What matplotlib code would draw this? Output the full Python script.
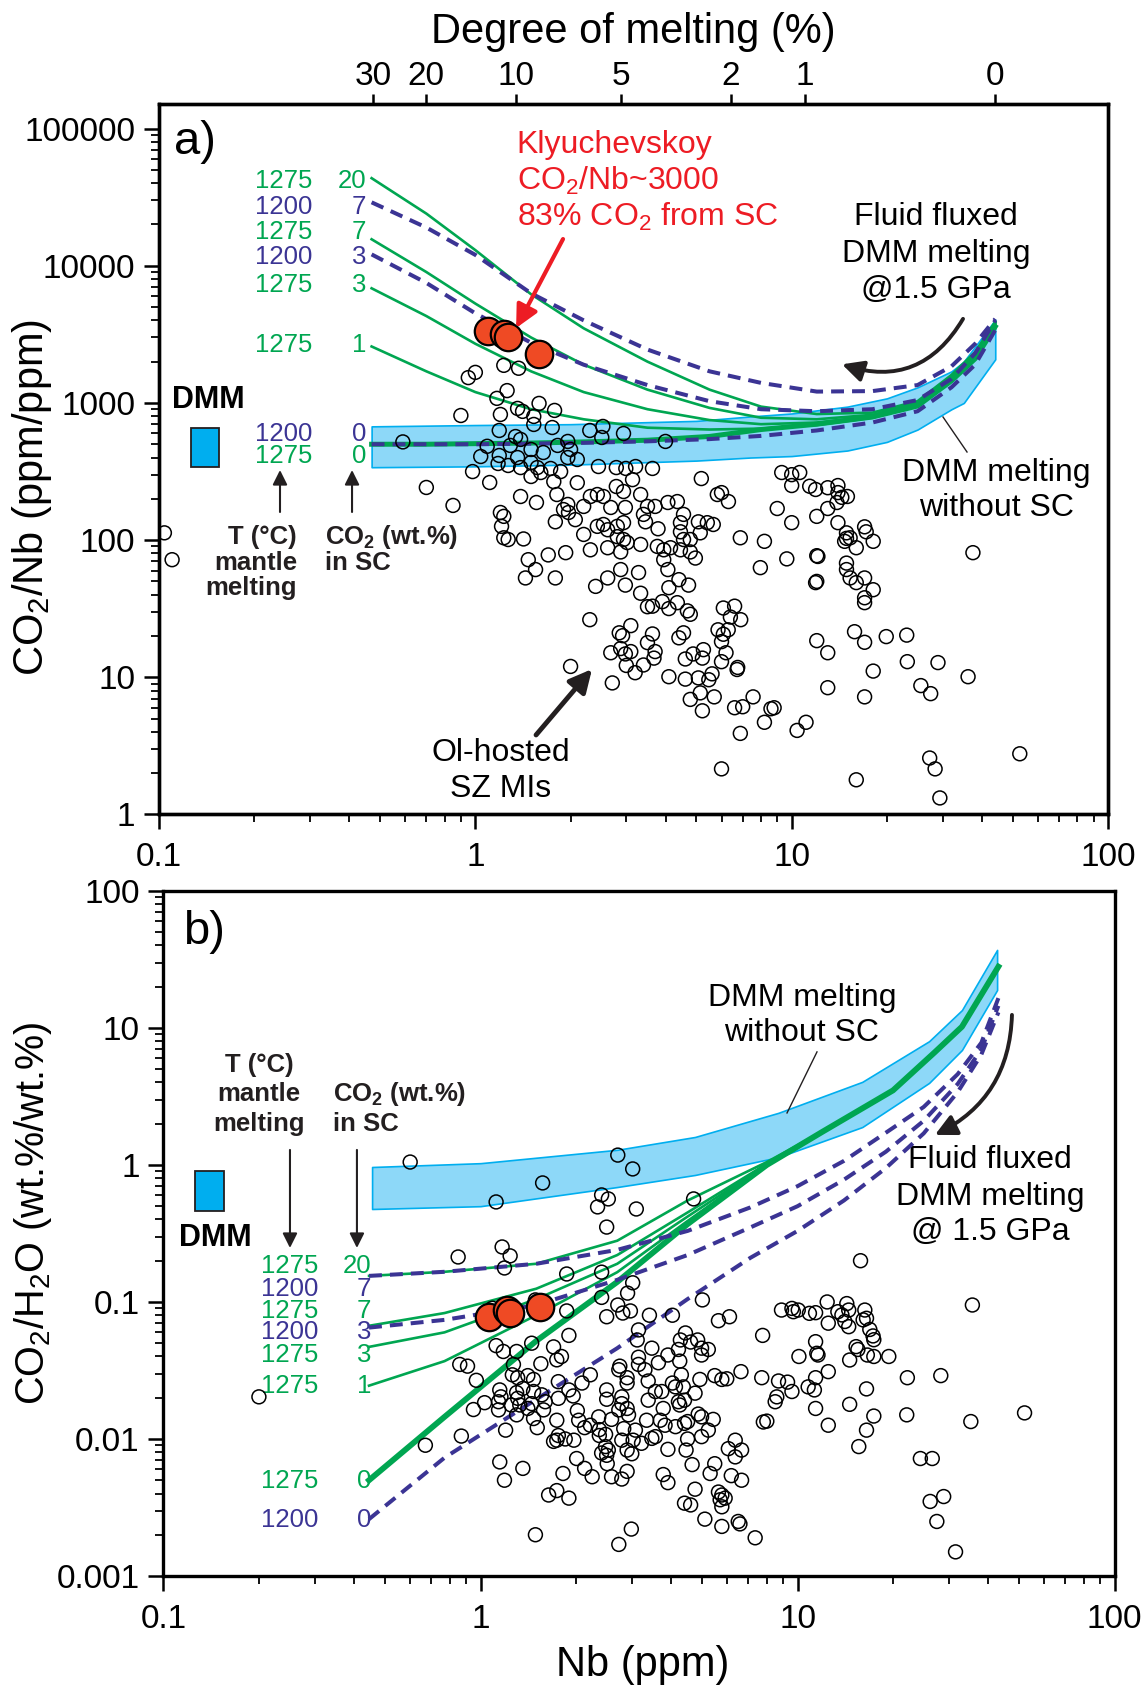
import matplotlib
matplotlib.use('Agg')
import matplotlib.pyplot as plt
from matplotlib.patches import Rectangle, FancyArrowPatch
from matplotlib.ticker import NullFormatter, NullLocator

plt.rcParams['font.family'] = ['Liberation Sans', 'DejaVu Sans']
plt.rcParams['mathtext.fontset'] = 'custom'
plt.rcParams['mathtext.rm'] = 'Liberation Sans'
plt.rcParams['mathtext.it'] = 'Liberation Sans:italic'
plt.rcParams['mathtext.bf'] = 'Liberation Sans:bold'

GREEN = '#00A651'
NAVY = '#3B3494'
BAND = '#8DD8F8'
BAND_EDGE = '#00AEEF'
RED = '#ED1C24'
KLY = '#EF4A24'

# ---------------- panel a data: CO2/Nb vs Nb ----------------
mi_a = [
    (0.59, 520), (0.70, 242), (0.104, 113), (0.110, 72),
    (1.23, 1880), (1.37, 1790), (1.26, 1230), (1.17, 1080), (0.95, 1530), (1.00, 1670), (0.90, 810), (1.20, 824),
    (1.36, 912), (1.41, 868), (1.59, 992), (1.78, 882), (1.53, 797), (1.53, 697), (1.75, 662), (1.19, 630),
    (2.30, 630), (2.53, 674), (2.94, 599), (2.51, 560), (3.99, 524), (1.34, 569), (1.39, 542), (1.29, 490),
    (1.09, 483), (1.04, 407), (1.19, 414), (1.36, 400), (1.50, 458), (1.64, 435), (1.82, 490), (1.96, 524),
    (2.00, 458), (1.96, 400), (1.50, 368), (1.18, 362), (1.27, 350), (1.39, 338), (1.57, 338), (1.73, 333),
    (1.86, 316), (2.10, 387), (0.98, 316), (1.11, 263), (1.50, 291), (1.61, 311), (1.77, 267), (2.10, 262),
    (1.81, 215), (1.39, 208), (1.56, 188), (0.85, 179), (2.45, 344), (2.79, 338), (2.99, 333), (3.21, 344),
    (3.63, 333), (3.14, 276), (2.79, 246), (2.94, 226), (3.33, 215), (5.18, 281), (5.82, 215), (6.31, 191),
    (6.00, 222), (2.31, 208), (2.43, 215), (2.54, 208), (2.20, 176), (1.96, 182), (1.90, 167), (1.97, 159),
    (2.07, 141), (1.79, 136), (2.68, 173), (2.98, 173), (1.20, 159), (1.23, 149), (1.21, 126), (1.23, 104),
    (1.27, 101), (1.42, 102), (1.47, 72), (1.70, 78), (1.93, 81), (2.31, 85), (2.62, 88), (1.55, 61),
    (1.44, 53), (1.79, 53), (2.43, 126), (2.54, 130), (2.62, 119), (2.81, 126), (2.94, 134), (2.81, 106),
    (2.94, 101), (3.02, 96), (2.20, 110), (3.50, 176), (3.70, 176), (4.06, 188), (4.35, 191), (4.55, 154),
    (3.40, 154), (3.45, 136), (3.78, 121), (4.45, 134), (4.45, 115), (4.55, 101), (4.78, 101), (5.14, 113),
    (5.07, 136), (5.41, 134), (5.65, 130), (6.88, 104), (8.20, 98), (7.96, 63), (3.76, 90), (3.94, 85),
    (4.14, 88), (4.45, 85), (4.78, 82), (4.96, 74), (3.94, 72), (4.06, 61), (3.33, 93), (2.88, 82),
    (2.88, 61), (3.28, 58), (2.98, 47), (2.62, 53), (2.40, 46), (3.33, 41), (4.40, 51.5), (4.72, 47),
    (4.09, 45), (3.50, 32.7), (3.63, 33), (3.90, 35.6), (4.09, 31.7), (4.35, 35), (4.68, 30.5), (4.78, 28.8),
    (2.30, 26.3), (3.10, 23.8), (2.85, 21.1), (2.92, 20.1), (3.63, 20.7), (3.50, 17.9), (2.68, 15.1), (2.88, 16.2),
    (3.10, 15.4), (2.98, 14.8), (3.70, 15.4), (3.67, 13.8), (3.00, 12.2), (3.20, 10.8), (3.40, 12.3), (2.71, 9.1),
    (2.00, 12.0), (4.40, 19.4), (4.55, 21.1), (4.09, 10.1), (4.61, 13.6), (4.88, 14.8), (5.26, 15.9), (5.22, 13.8),
    (4.61, 9.7), (5.07, 9.9), (5.47, 9.6), (5.60, 10.6), (4.78, 6.9), (5.14, 7.7), (5.22, 5.7), (5.69, 7.2),
    (6.08, 32), (6.60, 33), (6.40, 27.5), (6.90, 26.3), (5.85, 22.2), (6.08, 20.6), (6.30, 22.2), (6.00, 18.2),
    (6.20, 15.1), (6.00, 13), (6.72, 11.4), (6.75, 11.8), (7.55, 7.2), (6.60, 6.0), (7.00, 6.1), (8.20, 4.7),
    (6.88, 3.9), (6.00, 2.15), (9.3, 311), (10.0, 300), (10.6, 311), (10.0, 250), (11.4, 247), (11.9, 234),
    (13.0, 241), (14.0, 250), (14.0, 222), (14.4, 205), (15.0, 208), (13.9, 188), (9.0, 170), (13.0, 170),
    (12.0, 149), (10.0, 134), (14.0, 134), (17.0, 125), (17.2, 115), (14.9, 113), (14.9, 103), (14.7, 98),
    (15.3, 104), (18.1, 98), (16.0, 88), (9.65, 73), (12.0, 77), (12.1, 76), (14.9, 68), (14.9, 61),
    (15.3, 53), (16.0, 49), (17.0, 53), (18.1, 43.5), (11.9, 49), (12.0, 50), (17.0, 38), (37.4, 81),
    (17.0, 35), (15.8, 21.5), (17.0, 18.0), (19.9, 19.8), (23.1, 20.3), (12.0, 18.5), (13.0, 15.1), (23.2, 13),
    (29.0, 12.8), (18.1, 11.1), (36.1, 10.1), (13.0, 8.4), (17.0, 7.2), (25.6, 8.7), (27.5, 7.6), (8.8, 6.0),
    (8.6, 5.9), (11.1, 4.7), (10.4, 4.1), (27.3, 2.58), (28.4, 2.15), (52.6, 2.77), (16.0, 1.79), (29.4, 1.32),
]
kly_nb_a = [1.10, 1.23, 1.27, 1.59]
kly_ratio_a = [3330, 3160, 3000, 2260]

curve_nb_a = [0.47, 0.7, 1.0, 1.5, 2.2, 3.5, 5.5, 8, 12, 18, 25, 32, 38, 44]
g20_a = [43500, 24000, 13000, 6200, 3500, 2000, 1250, 940, 830, 850, 1030, 1600, 2350, 3900]
d7_a = [29000, 19000, 12000, 6300, 4000, 2450, 1700, 1400, 1210, 1220, 1350, 1850, 2700, 4100]
g7_a = [15600, 9000, 5300, 3000, 1900, 1250, 920, 780, 760, 820, 1000, 1580, 2300, 3850]
d3_a = [12100, 7500, 4500, 2750, 1900, 1350, 1030, 900, 870, 900, 1050, 1500, 2300, 4000]
g3_a = [6850, 4300, 2700, 1700, 1200, 900, 750, 700, 720, 800, 980, 1550, 2250, 3800]
g1_a = [2580, 1700, 1200, 900, 760, 660, 640, 650, 690, 780, 950, 1500, 2200, 3700]
g0_a = [500, 500, 505, 510, 520, 535, 570, 640, 700, 790, 950, 1450, 2100, 3600]
d0_a = [500, 500, 500, 505, 512, 525, 545, 575, 630, 720, 870, 1300, 1900, 3400]

band_nb_a = [0.47, 1, 2, 5, 7.4, 10, 15, 20, 25, 32, 35, 44]
band_lo_a = [340, 345, 355, 380, 400, 410, 450, 520, 640, 900, 1000, 2080]
band_hi_a = [675, 690, 700, 740, 797, 838, 940, 1080, 1300, 1700, 2000, 4050]

melt_pct = ['30', '20', '10', '5', '2', '1', '0']
melt_nb = [0.475, 0.70, 1.34, 2.88, 6.42, 11.0, 43.9]

dmm_nb = (0.126, 0.155)
dmm_ratio_a = (344, 662)
dmm_ratio_b = (0.458, 0.904)

rows_a = [('1275', '20', GREEN), ('1200', '7', NAVY), ('1275', '7', GREEN), ('1200', '3', NAVY),
          ('1275', '3', GREEN), ('1275', '1', GREEN), ('1200', '0', NAVY), ('1275', '0', GREEN)]
rows_b = [('1275', '20', GREEN), ('1200', '7', NAVY), ('1275', '7', GREEN), ('1200', '3', NAVY),
          ('1275', '3', GREEN), ('1275', '1', GREEN), ('1275', '0', GREEN), ('1200', '0', NAVY)]

# ---------------- panel b data: CO2/H2O vs Nb ----------------
mi_b = [
    (0.60, 1.05), (0.85, 0.213), (0.20, 0.0203), (0.67, 0.0090),
    (2.71, 1.18), (3.02, 0.935), (1.57, 0.739), (1.12, 0.537), (2.41, 0.604), (2.53, 0.565), (2.34, 0.494), (3.10, 0.477),
    (4.70, 0.565), (2.50, 0.352), (1.17, 0.252), (1.24, 0.217), (1.19, 0.177), (1.87, 0.160), (2.41, 0.165), (3.02, 0.138),
    (2.91, 0.116), (2.41, 0.108), (2.71, 0.095), (2.81, 0.083), (2.97, 0.086), (3.41, 0.080), (4.03, 0.080), (2.50, 0.078),
    (1.87, 0.086), (1.49, 0.1035), (1.09, 0.090), (5.01, 0.1035), (5.63, 0.073), (6.10, 0.078), (7.76, 0.057), (1.90, 0.057),
    (3.15, 0.0625), (3.12, 0.0528), (4.27, 0.0528), (4.43, 0.0594), (4.84, 0.0528),
    (1.12, 0.048), (1.18, 0.0435), (1.30, 0.0435), (1.45, 0.050), (1.70, 0.047), (1.74, 0.0378), (1.80, 0.040), (1.55, 0.0354),
    (0.86, 0.035), (0.91, 0.034), (0.97, 0.0268), (1.27, 0.035), (1.26, 0.0294), (1.31, 0.028), (1.41, 0.029), (1.47, 0.0272),
    (1.36, 0.0234), (1.47, 0.0222), (1.30, 0.0218), (1.15, 0.0228), (1.16, 0.0203), (1.14, 0.0187), (1.03, 0.0184), (0.95, 0.0164),
    (1.14, 0.0163), (1.25, 0.0177), (1.31, 0.0198), (1.33, 0.0177), (1.45, 0.0181), (1.41, 0.0167), (1.56, 0.021), (1.60, 0.0187),
    (1.58, 0.0163), (1.30, 0.0150), (1.47, 0.0141), (1.51, 0.0121), (1.20, 0.0116), (0.87, 0.0105), (1.76, 0.0262), (1.90, 0.0228),
    (1.96, 0.0206), (2.09, 0.0256), (2.22, 0.0294), (1.76, 0.0198), (1.74, 0.0137), (2.02, 0.0161), (2.04, 0.0137), (2.13, 0.0121),
    (2.22, 0.0126), (2.36, 0.0145), (2.37, 0.0117), (2.48, 0.0108), (2.59, 0.0139), (2.73, 0.032), (2.75, 0.034), (2.90, 0.028),
    (2.90, 0.0256), (3.15, 0.0395), (3.15, 0.035), (3.30, 0.032), (3.47, 0.046), (3.64, 0.036), (3.90, 0.041), (4.21, 0.045),
    (4.25, 0.037), (4.30, 0.0294), (4.60, 0.051), (4.98, 0.046), (5.23, 0.045), (4.98, 0.041), (5.48, 0.029), (5.77, 0.0272),
    (5.98, 0.0275), (6.63, 0.031), (2.50, 0.0228), (2.50, 0.0195), (2.79, 0.0203), (2.79, 0.0181), (2.90, 0.0167), (2.93, 0.0150),
    (2.73, 0.0163), (2.83, 0.0119), (3.08, 0.0116), (3.34, 0.0137), (3.38, 0.0265), (3.56, 0.0222), (3.38, 0.0192), (3.73, 0.0222),
    (3.77, 0.0167), (3.69, 0.0137), (3.82, 0.0126), (4.03, 0.0256), (4.12, 0.024), (4.21, 0.0187), (4.36, 0.024), (4.40, 0.0192),
    (4.25, 0.0177), (4.75, 0.0216), (4.92, 0.0272), (4.12, 0.0123), (4.40, 0.0130), (4.50, 0.0134), (4.86, 0.0152), (4.98, 0.0145),
    (5.42, 0.0139), (5.23, 0.0116), (4.98, 0.0104), (4.50, 0.0100), (4.45, 0.0083), (3.90, 0.0084), (3.47, 0.0101), (3.56, 0.0104),
    (3.22, 0.0093), (3.03, 0.0098), (2.90, 0.0083), (3.00, 0.0078), (2.79, 0.0098), (2.48, 0.0088), (2.41, 0.0079), (2.50, 0.0076),
    (2.53, 0.0083), (2.51, 0.0066), (2.37, 0.0106), (2.25, 0.0053), (2.13, 0.0061), (2.01, 0.0072), (1.82, 0.0056), (1.74, 0.0098),
    (1.85, 0.0100), (1.97, 0.0098), (1.70, 0.0096), (1.76, 0.0106), (1.15, 0.0068), (1.19, 0.0050), (1.36, 0.0061), (1.64, 0.0039),
    (1.74, 0.0042), (1.90, 0.0037), (1.49, 0.0020), (2.59, 0.0053), (2.79, 0.0051), (2.90, 0.0058), (2.73, 0.0017), (2.99, 0.0022),
    (3.77, 0.0055), (3.90, 0.0048), (4.65, 0.0065), (5.48, 0.0066), (5.30, 0.0056), (6.18, 0.0054), (6.66, 0.0050), (6.05, 0.0085),
    (6.36, 0.0098), (6.66, 0.0083), (6.36, 0.0074), (4.40, 0.0034), (4.60, 0.0033), (4.75, 0.0043), (5.10, 0.0026), (5.63, 0.0041),
    (5.77, 0.0039), (5.91, 0.0037), (5.70, 0.0036), (5.77, 0.0032), (5.77, 0.0023), (6.50, 0.0025), (6.58, 0.0024), (7.35, 0.0019),
    (7.80, 0.0133),
    (11.4, 0.0513), (11.5, 0.0422), (11.6, 0.041), (10.1, 0.040), (14.6, 0.0377), (15.3, 0.0472), (15.5, 0.045), (16.6, 0.041),
    (17.4, 0.040), (19.4, 0.040), (17.4, 0.053), (7.71, 0.028), (8.71, 0.0265), (9.3, 0.026), (9.6, 0.0222), (10.8, 0.024),
    (11.3, 0.0228), (11.4, 0.028), (12.5, 0.031), (8.6, 0.0203), (8.5, 0.0187), (8.0, 0.0135), (11.4, 0.0167), (12.5, 0.0126),
    (14.6, 0.0179), (16.5, 0.0232), (17.4, 0.0147), (16.5, 0.0116), (15.6, 0.0088), (22.2, 0.028), (28.3, 0.029), (22.1, 0.0150),
    (35.2, 0.0134), (52.0, 0.0155), (24.4, 0.0072), (26.6, 0.0072), (26.2, 0.0035), (28.9, 0.0038), (27.5, 0.0025), (31.5, 0.0015),
    (15.8, 0.200), (35.6, 0.095), (8.9, 0.0873), (9.6, 0.0897), (9.7, 0.0849), (10.05, 0.0873), (10.9, 0.0826), (11.4, 0.0835),
    (12.4, 0.100), (13.4, 0.0849), (13.8, 0.0804), (14.3, 0.0973), (14.5, 0.0873), (14.1, 0.072), (14.5, 0.066), (12.5, 0.070),
    (16.3, 0.0873), (16.5, 0.076), (16.1, 0.074), (16.9, 0.063), (17.3, 0.0565),
]
kly_nb_b = [1.06, 1.21, 1.24, 1.54]
kly_ratio_b = [0.078, 0.0875, 0.083, 0.092]

curve_nb_b = [0.445, 0.77, 1.5, 2.7, 4.5, 8, 12, 20, 27, 33, 43]
g0_b = [0.0050, 0.0145, 0.052, 0.14, 0.37, 1.0, 1.75, 3.5, 6.6, 10.2, 28]
g1_b = [0.0245, 0.037, 0.08, 0.165, 0.39, 1.0, 1.75, 3.5, 6.6, 10.2, 28]
g3_b = [0.047, 0.060, 0.105, 0.19, 0.42, 1.01, 1.75, 3.5, 6.6, 10.2, 28]
g7_b = [0.067, 0.083, 0.125, 0.22, 0.45, 1.02, 1.75, 3.5, 6.6, 10.2, 28]
g20_b = [0.155, 0.166, 0.19, 0.28, 0.55, 1.05, 1.75, 3.5, 6.6, 10.2, 28]

dash_nb_b = [0.445, 0.77, 1.5, 2.7, 4.5, 7.1, 10, 14, 19, 25, 32, 38, 43]
d7_b = [0.155, 0.166, 0.19, 0.24, 0.33, 0.49, 0.70, 1.07, 1.72, 2.65, 4.6, 7.8, 16.5]
d3_b = [0.065, 0.074, 0.095, 0.145, 0.22, 0.35, 0.50, 0.78, 1.25, 2.1, 3.9, 7.0, 14.5]
d0_b = [0.0026, 0.0073, 0.0195, 0.046, 0.105, 0.21, 0.33, 0.55, 0.95, 1.7, 3.4, 6.4, 13]

band_nb_b = [0.455, 1.0, 2.7, 4.75, 8.7, 16, 26, 33, 42.6]
band_lo_b = [0.477, 0.50, 0.69, 0.845, 1.14, 1.89, 3.97, 6.9, 18.9]
band_hi_b = [0.966, 1.03, 1.29, 1.60, 2.40, 4.04, 8.0, 13.5, 37.1]

DASH = (0, (3.2, 2.0))

fig = plt.figure(figsize=(11.48, 16.87), dpi=100)
axa = fig.add_axes([0.1385, 0.5172, 0.8267, 0.4209])
axb = fig.add_axes([0.1424, 0.0658, 0.8285, 0.4061])


def frame(ax, yticks, ylabels):
    ax.set_xscale('log')
    ax.set_yscale('log')
    ax.set_xlim(0.1, 100)
    ax.set_xticks([0.1, 1, 10, 100], ['0.1', '1', '10', '100'])
    ax.set_yticks(yticks, ylabels)
    ax.xaxis.set_minor_formatter(NullFormatter())
    ax.yaxis.set_minor_formatter(NullFormatter())
    ax.tick_params(which='major', length=11, width=1.8, direction='out', labelsize=24, pad=6,
                   top=False, right=False)
    ax.tick_params(axis='x', which='major', pad=9)
    ax.tick_params(which='minor', length=6, width=1.3, direction='out', top=False, right=False)
    for sp in ax.spines.values():
        sp.set_linewidth(2.4)


def arrow(ax, p0, p1, color='#231F20', lw=2.5, ms=30, rad=0.0):
    ax.add_patch(FancyArrowPatch(p0, p1, transform=ax.transAxes, arrowstyle='-|>',
                                 mutation_scale=ms, color=color, lw=lw, shrinkA=0, shrinkB=0,
                                 connectionstyle=f'arc3,rad={rad}', zorder=9))


def row_labels(ax, rows, ys, xt, xn):
    for (t, n, c), y in zip(rows, ys):
        ax.text(xt, y, t, color=c, fontsize=18.5, ha='right', va='center', transform=ax.transAxes)
        ax.text(xn, y, n, color=c, fontsize=18.5, ha='right', va='center', transform=ax.transAxes)


# ================= panel a =================
frame(axa, [1, 10, 100, 1000, 10000, 100000], ['1', '10', '100', '1000', '10000', '100000'])
axa.set_ylim(1, 1.5e5)
axa.fill_between(band_nb_a, band_lo_a, band_hi_a, facecolor=BAND, edgecolor=BAND_EDGE, lw=1.2, zorder=1)
for vals in (g20_a, g7_a, g3_a, g1_a):
    axa.plot(curve_nb_a, vals, color=GREEN, lw=1.9, zorder=3)
axa.plot(curve_nb_a, g0_a, color=GREEN, lw=3.6, zorder=3)
for vals in (d7_a, d3_a, d0_a):
    axa.plot(curve_nb_a, vals, color=NAVY, lw=2.9, ls=DASH, zorder=4)
nb, r = zip(*mi_a)
axa.scatter(nb, r, s=100, facecolors='none', edgecolors='black', linewidths=1.1, zorder=5)
axa.scatter(kly_nb_a, kly_ratio_a, s=390, facecolors=KLY, edgecolors='black', linewidths=1.6, zorder=7)
axa.add_patch(Rectangle((dmm_nb[0], dmm_ratio_a[0]), dmm_nb[1] - dmm_nb[0], dmm_ratio_a[1] - dmm_ratio_a[0],
                        facecolor=BAND_EDGE, edgecolor='#231F20', lw=1.3, zorder=6))
axa.set_ylabel('CO$_2$/Nb (ppm/ppm)', fontsize=30)
axa.yaxis.set_label_coords(-0.111, 0.447)

top = axa.twiny()
top.set_xscale('log')
top.set_xlim(axa.get_xlim())
top.set_xticks(melt_nb, melt_pct)
top.xaxis.set_minor_locator(NullLocator())
top.tick_params(length=7, width=1.8, direction='out', labelsize=24, pad=2)
top.set_xlabel('Degree of melting (%)', fontsize=30)
top.xaxis.set_label_coords(0.5, 1.086)
for sp in top.spines.values():
    sp.set_linewidth(2.4)

axa.text(0.016, 0.947, 'a)', fontsize=34, ha='left', va='center', transform=axa.transAxes)
row_labels(axa, rows_a, [0.8921, 0.8555, 0.8203, 0.7851, 0.7457, 0.6612, 0.5359, 0.5049], 0.1612, 0.2181)

for y, t in zip([0.9428, 0.8921, 0.8414], ['Klyuchevskoy', 'CO$_2$/Nb~3000', '83% CO$_2$ from SC']):
    axa.text(0.3767, y, t, color=RED, fontsize=23, ha='left', va='center', transform=axa.transAxes)
arrow(axa, (0.4257, 0.8104), (0.3763, 0.6851), color=RED, lw=3, ms=34)

for y, t in zip([0.8414, 0.7893, 0.7386], ['Fluid fluxed', 'DMM melting', '@1.5 GPa']):
    axa.text(0.8188, y, t, fontsize=23, ha='center', va='center', transform=axa.transAxes)
arrow(axa, (0.8472, 0.698), (0.7197, 0.634), lw=2.8, ms=32, rad=-0.4)

for y, t in zip([0.481, 0.432], ['DMM melting', 'without SC']):
    axa.text(0.882, y, t, fontsize=23, ha='center', va='center', transform=axa.transAxes)
axa.plot([0.8514, 0.8261], [0.5105, 0.5598], color='#231F20', lw=1.0, transform=axa.transAxes, zorder=8)

axa.text(0.0516, 0.584, 'DMM', fontsize=22, fontweight='bold', ha='center', va='center', transform=axa.transAxes)
for y, t in zip([0.3906, 0.3539, 0.3187], ['T (°C)', 'mantle', 'melting']):
    axa.text(0.1454, y, t, fontsize=18.5, fontweight='bold', ha='right', va='center',
             color='#231F20', transform=axa.transAxes)
for y, t in zip([0.3906, 0.3539], [r'CO$_\mathbf{2}$ (wt.%)', 'in SC']):
    axa.text(0.1749, y, t, fontsize=18.5, fontweight='bold', ha='left', va='center',
             color='#231F20', transform=axa.transAxes)
arrow(axa, (0.1275, 0.426), (0.1275, 0.4851), lw=1.5, ms=22)
arrow(axa, (0.2034, 0.426), (0.2034, 0.4851), lw=1.5, ms=22)

for y, t in zip([0.0866, 0.0359], ['Ol-hosted', 'SZ MIs']):
    axa.text(0.3604, y, t, fontsize=23, ha='center', va='center', transform=axa.transAxes)
arrow(axa, (0.3973, 0.112), (0.4563, 0.2048), lw=3.5, ms=34)

# ================= panel b =================
frame(axb, [0.001, 0.01, 0.1, 1, 10, 100], ['0.001', '0.01', '0.1', '1', '10', '100'])
axb.set_ylim(0.001, 100)
axb.fill_between(band_nb_b, band_lo_b, band_hi_b, facecolor=BAND, edgecolor=BAND_EDGE, lw=1.2, zorder=1)
for vals in (g20_b, g7_b, g3_b, g1_b):
    axb.plot(curve_nb_b, vals, color=GREEN, lw=1.9, zorder=3)
axb.plot(curve_nb_b, g0_b, color=GREEN, lw=4.2, zorder=3)
for vals in (d7_b, d3_b, d0_b):
    axb.plot(dash_nb_b, vals, color=NAVY, lw=2.9, ls=DASH, zorder=4)
nb, r = zip(*mi_b)
axb.scatter(nb, r, s=100, facecolors='none', edgecolors='black', linewidths=1.1, zorder=5)
axb.scatter(kly_nb_b, kly_ratio_b, s=390, facecolors=KLY, edgecolors='black', linewidths=1.6, zorder=7)
axb.add_patch(Rectangle((dmm_nb[0], dmm_ratio_b[0]), dmm_nb[1] - dmm_nb[0], dmm_ratio_b[1] - dmm_ratio_b[0],
                        facecolor=BAND_EDGE, edgecolor='#231F20', lw=1.3, zorder=6))
axb.set_ylabel('CO$_2$/H$_2$O (wt.%/wt.%)', fontsize=28.5)
axb.yaxis.set_label_coords(-0.115, 0.53)
axb.set_xlabel('Nb (ppm)', fontsize=30)
axb.xaxis.set_label_coords(0.504, -0.1)

axb.text(0.0205, 0.9401, 'b)', fontsize=34, ha='left', va='center', transform=axb.transAxes)
row_labels(axb, rows_b, [0.4526, 0.4190, 0.3869, 0.3562, 0.3226, 0.2774, 0.1380, 0.0818], 0.1624, 0.2182)

for y, t in zip([0.8438, 0.7927], ['DMM melting', 'without SC']):
    axb.text(0.6713, y, t, fontsize=23, ha='center', va='center', transform=axb.transAxes)
axb.plot([0.6871, 0.6556], [0.7650, 0.6759], color='#231F20', lw=1.0, transform=axb.transAxes, zorder=8)

for y, t in zip([0.6073, 0.5533, 0.5022], ['Fluid fluxed', 'DMM melting', '@ 1.5 GPa']):
    axb.text(0.869, y, t, fontsize=23, ha='center', va='center', transform=axb.transAxes)
arrow(axb, (0.8921, 0.819), (0.8111, 0.6438), lw=2.8, ms=32, rad=-0.3)

axb.text(0.0541, 0.4934, 'DMM', fontsize=22, fontweight='bold', ha='center', va='center', transform=axb.transAxes)
for y, t in zip([0.746, 0.7036, 0.6599], ['T (°C)', 'mantle', 'melting']):
    axb.text(0.1004, y, t, fontsize=18.5, fontweight='bold', ha='center', va='center',
             color='#231F20', transform=axb.transAxes)
for y, t in zip([0.7036, 0.6599], [r'CO$_\mathbf{2}$ (wt.%)', 'in SC']):
    axb.text(0.1787, y, t, fontsize=18.5, fontweight='bold', ha='left', va='center',
             color='#231F20', transform=axb.transAxes)
arrow(axb, (0.133, 0.6219), (0.133, 0.4788), lw=1.5, ms=22)
arrow(axb, (0.2034, 0.6219), (0.2034, 0.4788), lw=1.5, ms=22)

fig.savefig('out.png', dpi=100)
